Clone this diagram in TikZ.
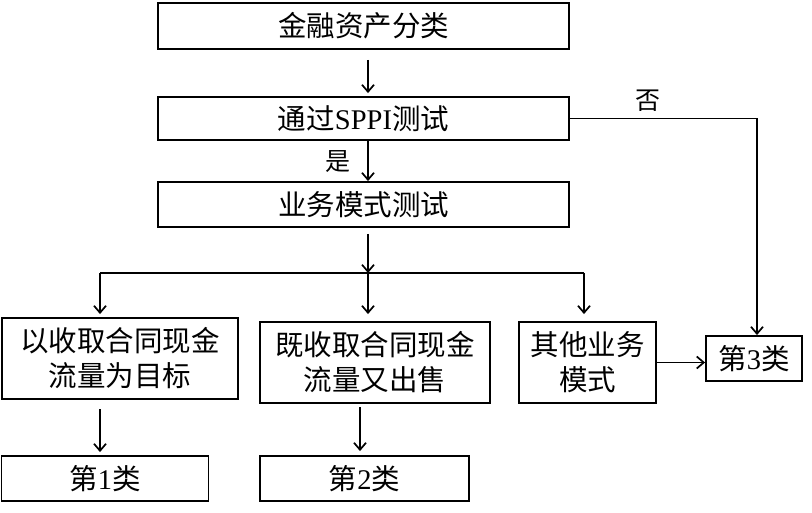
\documentclass[tikz,border=0pt]{standalone}
\usepackage{fontspec}
\setmainfont{Liberation Serif}
\newfontfamily\cjk{Noto Sans CJK SC}
\usetikzlibrary{arrows.meta,calc}
\tikzset{
  box/.style={draw, line width=1.9pt, inner sep=0pt, font=\cjk\fontsize{28.5}{35}\selectfont, align=center},
  arr/.style={line width=1.7pt, -{Straight Barb[length=7pt,width=12pt,line width=1.7pt]}},
  line/.style={line width=1.7pt},
  lbl/.style={font=\cjk\fontsize{25}{25}\selectfont, inner sep=0pt}
}
\begin{document}
\begin{tikzpicture}[x=1pt,y=-1pt]
\useasboundingbox[fill=white] (0,0) rectangle (812,513);
\node[box, minimum width=411pt, minimum height=46pt] (a) at (363.5,26) {金融资产分类};
\node[box, minimum width=411pt, minimum height=43pt] (b) at (363.5,118.5) {通过{\rmfamily SPPI}测试};
\node[box, minimum width=411pt, minimum height=45pt] (c) at (363.5,204.5) {业务模式测试};
\node[box, minimum width=236pt, minimum height=81pt] (d) at (120,358.5) {以收取合同现金\\流量为目标};
\node[box, minimum width=230pt, minimum height=81pt] (e) at (375,362.5) {既收取合同现金\\流量又出售};
\node[box, minimum width=137pt, minimum height=81pt] (f) at (587.5,362.5) {其他业务\\模式};
\node[box, minimum width=96pt, minimum height=45pt] (g) at (754,358.5) {第{\rmfamily 3}类};
\node[box, minimum width=207pt, minimum height=45pt] (h) at (105,478.5) {第{\rmfamily 1}类};
\node[box, minimum width=209pt, minimum height=45pt] (i) at (364.5,478.5) {第{\rmfamily 2}类};
\node[lbl] (yes) at (338,162) {是};
\node[lbl] (no) at (648,101) {否};
% top chain
\draw[arr] ([xshift=4.5pt,yshift=-10pt]a.south) -- ([xshift=4.5pt,yshift=3pt]b.north);
\draw[arr] ([xshift=4.5pt]b.south) -- ([xshift=4.5pt]c.north);
% junction
\coordinate (j) at (368,273);
\coordinate (jl) at (100,273);
\coordinate (jr) at (584,273);
\draw[arr] ([xshift=4.5pt,yshift=-6pt]c.south) -- (j);
\draw[line] (jl) -- (jr);
\draw[arr] (jl) -- ([yshift=3pt]jl |- d.north);
\draw[arr] (j) -- ([yshift=7pt]j |- e.north);
\draw[arr] (jr) -- ([yshift=7pt]jr |- f.north);
% lower arrows
\coordinate (dl) at (100,409);
\draw[arr] (dl) -- ([yshift=3pt]dl |- h.north);
\coordinate (el) at (360,407);
\draw[arr] (el) -- ([yshift=4pt]el |- i.north);
\draw[arr] (f.east) -- (g.west |- f.east);
% no branch
\coordinate (n1) at (757,118.5);
\draw[arr] (b.east) -- (n1) -- (n1 |- g.north);
\end{tikzpicture}
\end{document}
